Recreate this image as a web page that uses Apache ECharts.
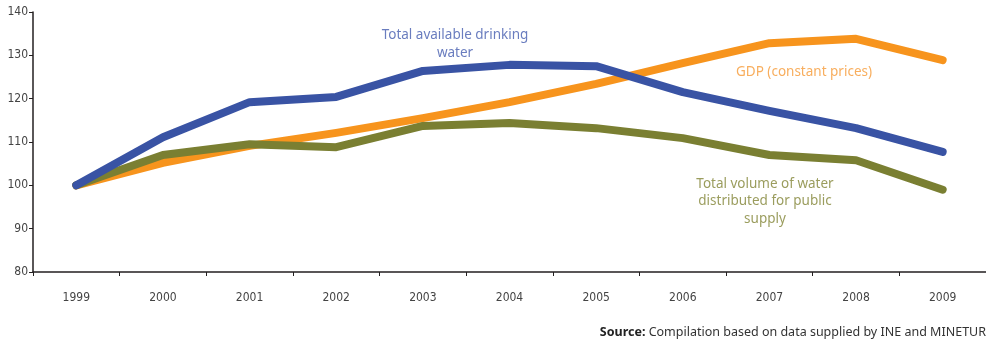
<!DOCTYPE html>
<html><head><meta charset="utf-8">
<script src="https://cdn.jsdelivr.net/npm/echarts@6/dist/echarts.min.js"></script>
<style>html,body{margin:0;padding:0;background:#fff}#c{width:986px;height:340px}</style>
</head><body><div id="c"></div>
<script>
var categories = ['1999','2000','2001','2002','2003','2004','2005','2006','2007','2008','2009'];
var drinkingWater = [100, 111.1, 119.2, 120.4, 126.4, 127.8, 127.5, 121.5, 117.2, 113.2, 107.7];
var gdp = [100, 105.2, 109.1, 112.1, 115.5, 119.2, 123.4, 128.2, 132.8, 133.8, 128.9];
var publicSupply = [100, 107.0, 109.5, 108.8, 113.7, 114.4, 113.2, 110.9, 107.0, 105.8, 99.0];
var yTicks = [80, 90, 100, 110, 120, 130, 140];

var font = '"Liberation Sans Narrow", "DejaVu Sans Condensed", sans-serif';
var chart = echarts.init(document.getElementById('c'));
function series(name, data, color, z) {
  return {name: name, type: 'line', data: data, symbol: 'none', z: z,
    lineStyle: {width: 8, color: color, cap: 'round', join: 'round'}, itemStyle: {color: color}};
}
chart.setOption({
  animation: false,
  grid: {left: 33, right: 0, top: 12, bottom: 68},
  xAxis: {type: 'category', data: categories, boundaryGap: true,
    axisLine: {lineStyle: {color: '#231f20', width: 1.5}},
    axisTick: {show: true, length: 4, lineStyle: {color: '#231f20'}},
    axisLabel: {color: '#444', fontFamily: font, fontSize: 12, margin: 20}},
  yAxis: {type: 'value', min: yTicks[0], max: yTicks[yTicks.length-1], interval: 10,
    splitLine: {show: false},
    axisLine: {show: true, lineStyle: {color: '#231f20', width: 1.5}},
    axisTick: {show: true, length: 4, lineStyle: {color: '#231f20'}},
    axisLabel: {color: '#444', fontFamily: font, fontSize: 12, margin: 5}},
  series: [
    series('Total volume of water distributed for public supply', publicSupply, '#7a7f32', 3),
    series('GDP (constant prices)', gdp, '#f7941d', 2),
    series('Total available drinking water', drinkingWater, '#3953a4', 4)
  ],
  graphic: [
    {type: 'text', style: {text: 'Total available drinking\nwater', x: 455, y: 26, align: 'center', fill: '#6a7dbf', font: '13.5px "Noto Sans", sans-serif', lineHeight: 18}},
    {type: 'text', style: {text: 'GDP (constant prices)', x: 804, y: 65, align: 'center', fill: '#f8ae5e', font: '13.5px "Noto Sans", sans-serif'}},
    {type: 'text', style: {text: 'Total volume of water\ndistributed for public\nsupply', x: 765, y: 175, align: 'center', fill: '#9b9d5e', font: '13.5px "Noto Sans", sans-serif', lineHeight: 17.5}},
    {type: 'text', style: {text: '{b|Source:} Compilation based on data supplied by INE and MINETUR', x: 986, y: 326, align: 'right', fill: '#333', font: '12.5px "Noto Sans", sans-serif',
      rich: {b: {fontWeight: 'bold', fill: '#222', fontSize: 12.5, fontFamily: '"Noto Sans", sans-serif'}}}}
  ]
});
</script></body></html>
